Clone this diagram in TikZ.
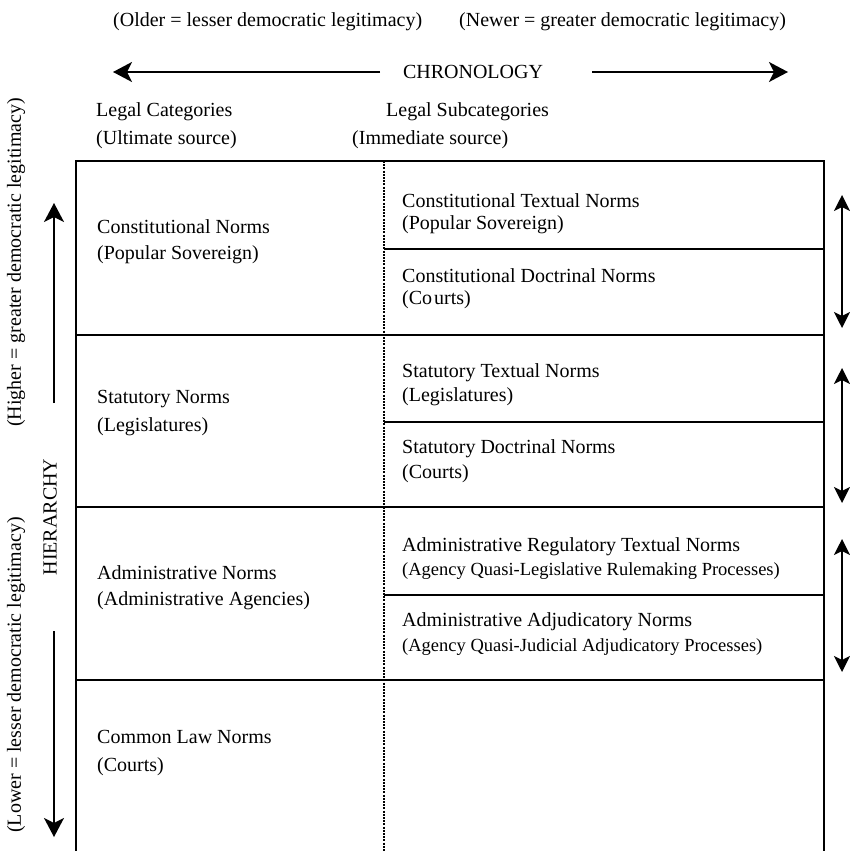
\documentclass[tikz,border=0pt]{standalone}
\usepackage{fontspec}
\setmainfont{Liberation Serif}
\usetikzlibrary{arrows.meta}
\begin{document}
\begin{tikzpicture}[x=1pt,y=-1pt,
  txt/.style={anchor=west,inner sep=0pt,font=\fontsize{20}{24}\selectfont},
  smalltxt/.style={anchor=west,inner sep=0pt,font=\fontsize{18.5}{22}\selectfont},
  vtxt/.style={anchor=west,inner sep=0pt,rotate=90,font=\fontsize{20}{24}\selectfont},
  gridline/.style={line width=2pt},
  divider/.style={line width=1.3pt,dash pattern=on 2pt off 1.2pt},
  bigarr/.style={line width=1.6pt,-{Stealth[length=19pt,width=20pt,inset=5pt]}},
  darr/.style={line width=1.6pt,{Stealth[length=16pt,width=16pt,inset=4pt]}-{Stealth[length=16pt,width=16pt,inset=4pt]}}]
\useasboundingbox (0,0) rectangle (849,851);

% top labels
\node[txt] (older) at (113,22) {(Older = lesser democratic legitimacy)};
\node[txt] (newer) at (459,22) {(Newer = greater democratic legitimacy)};
\node[inner sep=0pt,font=\fontsize{20}{24}\selectfont] (chron) at (473,72) {CHRONOLOGY};
\coordinate (chL) at (113,72);
\coordinate (chLs) at (380,72);
\coordinate (chR) at (788,72);
\coordinate (chRs) at (592,72);
\draw[bigarr] (chLs) -- (chL);
\draw[bigarr] (chRs) -- (chR);

% column headers
\node[txt] (cat) at (96,112) {Legal Categories};
\node[txt] (ult) at (96,140) {(Ultimate source)};
\node[txt] (subcat) at (386,112) {Legal Subcategories};
\node[txt] (imm) at (352,140) {(Immediate source)};

% table
\draw[gridline] (76,851) -- (76,161) -- (824,161) -- (824,851);
\draw[gridline] (76,335) -- (824,335);
\draw[gridline] (76,507) -- (824,507);
\draw[gridline] (76,680) -- (824,680);
\draw[gridline] (384,249) -- (824,249);
\draw[gridline] (384,422) -- (824,422);
\draw[gridline] (384,595) -- (824,595);
\draw[divider] (384,161) -- (384,851);

% left column
\node[txt] (c1) at (97,227) {Constitutional Norms};
\node[txt] (c2) at (97,255) {(Popular Sovereign)};
\node[txt] (s1) at (97,399) {Statutory Norms};
\node[txt] (s2) at (97,427) {(Legislatures)};
\node[txt] (a1) at (97,573) {Administrative Norms};
\node[txt] (a2) at (97,601) {(Administrative Agencies)};
\node[txt] (l1) at (97,737) {Common Law Norms};
\node[txt] (l2) at (97,767) {(Courts)};

% right column
\node[txt] (ct1) at (402,201) {Constitutional Textual Norms};
\node[txt] (ct2) at (402,225) {(Popular Sovereign)};
\node[txt] (cd1) at (402,276) {Constitutional Doctrinal Norms};
\node[txt] (cd2) at (402,300) {(Co\hspace{2pt}urts)};
\node[txt] (st1) at (402,373) {Statutory Textual Norms};
\node[txt] (st2) at (402,397) {(Legislatures)};
\node[txt] (sd1) at (402,449) {Statutory Doctrinal Norms};
\node[txt] (sd2) at (402,474) {(Courts)};
\node[txt] (ar1) at (402,547) {Administrative Regulatory Textual Norms};
\node[smalltxt] (ar2) at (402,571) {(Agency Quasi-Legislative Rulemaking Processes)};
\node[txt] (aa1) at (402,622) {Administrative Adjudicatory Norms};
\node[smalltxt] (aa2) at (402,647) {(Agency Quasi-Judicial Adjudicatory Processes)};

% right double arrows
\coordinate (r1t) at (842,195);
\coordinate (r1b) at (842,328);
\coordinate (r2t) at (842,368);
\coordinate (r2b) at (842,503);
\coordinate (r3t) at (842,539);
\coordinate (r3b) at (842,672);
\draw[darr] (r1t) -- (r1b);
\draw[darr] (r2t) -- (r2b);
\draw[darr] (r3t) -- (r3b);

% left vertical labels
\node[inner sep=0pt,rotate=90,font=\fontsize{20}{24}\selectfont] (hier) at (50,517) {HIERARCHY};
\coordinate (hUp) at (54,203);
\coordinate (hUs) at (54,403);
\coordinate (hDn) at (54,837);
\coordinate (hDs) at (54,631);
\draw[bigarr] (hUs) -- (hUp);
\draw[bigarr] (hDs) -- (hDn);
\node[vtxt] (lower) at (16,833) {(Lower = lesser democratic legitimacy)};
\node[vtxt] (higher) at (16,427) {(Higher = greater democratic legitimacy)};
\end{tikzpicture}
\end{document}
